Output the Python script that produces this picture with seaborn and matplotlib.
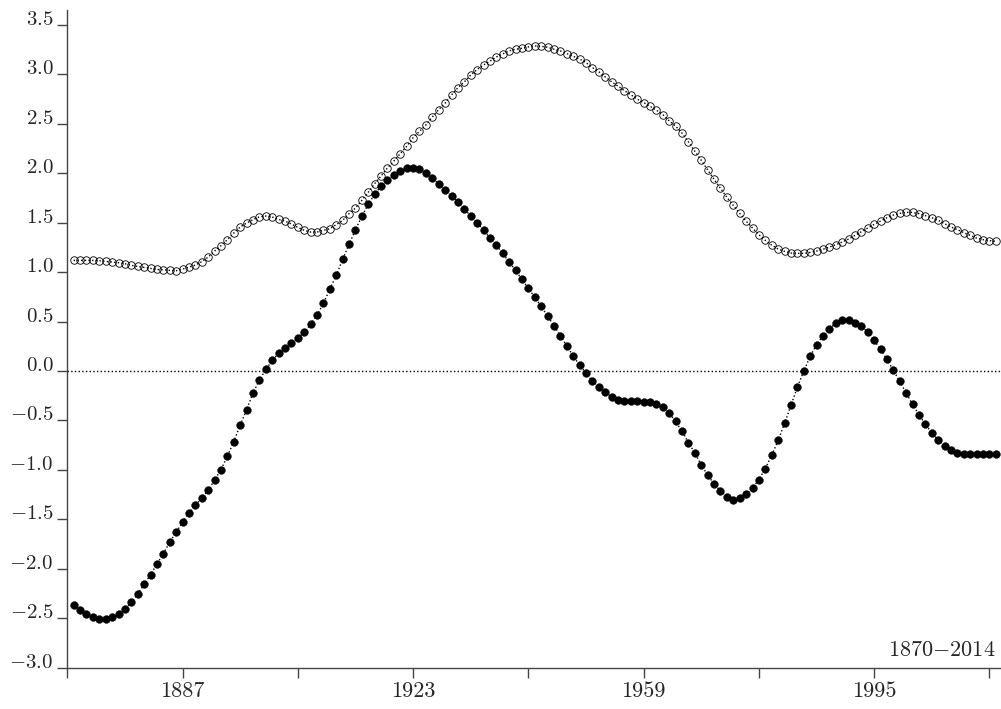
import matplotlib
matplotlib.use("Agg")
import matplotlib.pyplot as plt
import seaborn as sns

# data: one value per year 1870-2014
years = list(range(1870, 2015))

open_vals = [
    1.119, 1.119, 1.119, 1.119, 1.116, 1.109, 1.102, 1.096, 1.086, 1.069,
    1.059, 1.049, 1.038, 1.028, 1.025, 1.018, 1.015, 1.031, 1.052, 1.072,
    1.106, 1.153, 1.214, 1.268, 1.329, 1.396, 1.457, 1.497, 1.531, 1.560,
    1.568, 1.558, 1.534, 1.517, 1.487, 1.453, 1.423, 1.406, 1.406, 1.423,
    1.440, 1.481, 1.524, 1.592, 1.649, 1.727, 1.808, 1.896, 1.973, 2.054,
    2.125, 2.200, 2.273, 2.361, 2.425, 2.489, 2.570, 2.645, 2.710, 2.793,
    2.867, 2.925, 2.995, 3.050, 3.096, 3.134, 3.177, 3.208, 3.238, 3.255,
    3.265, 3.279, 3.289, 3.285, 3.275, 3.255, 3.238, 3.211, 3.184, 3.157,
    3.120, 3.070, 3.027, 2.975, 2.926, 2.882, 2.836, 2.795, 2.749,
    2.716, 2.678, 2.638, 2.594, 2.530, 2.477, 2.406, 2.317, 2.223, 2.132,
    2.034, 1.939, 1.848, 1.757, 1.676, 1.595, 1.517, 1.446, 1.379, 1.322,
    1.274, 1.234, 1.211, 1.194, 1.190, 1.190, 1.200, 1.214, 1.232, 1.254,
    1.278, 1.305, 1.335, 1.372, 1.410, 1.446, 1.484, 1.517, 1.551, 1.578,
    1.595, 1.605, 1.605, 1.592, 1.572, 1.551, 1.524, 1.491, 1.457, 1.430,
    1.400, 1.372, 1.345, 1.329, 1.319, 1.312,
]

filled_vals = [
    -2.365, -2.416, -2.457, -2.490, -2.510, -2.510, -2.490, -2.457, -2.406, -2.339,
    -2.254, -2.157, -2.059, -1.954, -1.846, -1.731, -1.630, -1.529, -1.438, -1.357,
    -1.286, -1.205, -1.104, -0.996, -0.864, -0.713, -0.547, -0.392, -0.223, -0.090,
    0.016, 0.107, 0.181, 0.232, 0.282, 0.333, 0.394, 0.472, 0.566, 0.684,
    0.829, 0.968, 1.130, 1.281, 1.430, 1.565, 1.686, 1.790, 1.871, 1.929,
    1.980, 2.020, 2.051, 2.051, 2.040, 2.000, 1.953, 1.892, 1.828, 1.771,
    1.710, 1.639, 1.568, 1.497, 1.426, 1.345, 1.271, 1.190, 1.102, 1.018,
    0.927, 0.836, 0.748, 0.654, 0.556, 0.458, 0.357, 0.256, 0.151, 0.060,
    -0.021, -0.102, -0.159, -0.210, -0.264, -0.291, -0.301, -0.304, -0.305,
    -0.308, -0.308, -0.331, -0.365, -0.426, -0.510, -0.611, -0.723, -0.831, -0.949,
    -1.053, -1.141, -1.212, -1.269, -1.300, -1.286, -1.246, -1.185, -1.097, -0.986,
    -0.851, -0.702, -0.530, -0.348, -0.163, -0.001, 0.148, 0.266, 0.358, 0.428,
    0.485, 0.512, 0.512, 0.485, 0.451, 0.394, 0.310, 0.219, 0.117, 0.006,
    -0.105, -0.223, -0.338, -0.443, -0.540, -0.625, -0.696, -0.753, -0.800, -0.824,
    -0.837, -0.837, -0.837, -0.837, -0.837, -0.837,
]

ytick_vals = [-3.0, -2.5, -2.0, -1.5, -1.0, -0.5, 0.0, 0.5, 1.0, 1.5, 2.0, 2.5, 3.0, 3.5]
xtick_vals = [1869, 1887, 1905, 1923, 1941, 1959, 1977, 1995, 2013]
xtick_labels = ["", "1887", "", "1923", "", "1959", "", "1995", ""]
period_label = "1870{-}2014"

sns.set_style("ticks")
plt.rcParams["font.family"] = ["cmr10", "DejaVu Serif"]
plt.rcParams["mathtext.fontset"] = "cm"
plt.rcParams["axes.unicode_minus"] = False

fig = plt.figure(figsize=(10.01, 7.09), dpi=100)
ax = fig.add_axes([0.0672, 0.0583, 0.9328, 0.9276])

ax.axhline(0, color="black", linestyle=":", linewidth=1.0, zorder=1)

sns.lineplot(x=years, y=open_vals, ax=ax, color="black", linestyle=":",
             linewidth=1.0, marker="o", markersize=5.4, markerfacecolor="none",
             markeredgecolor="black", markeredgewidth=0.6)
sns.lineplot(x=years, y=filled_vals, ax=ax, color="black", linestyle=":",
             linewidth=1.0, marker="o", markersize=5.6, markerfacecolor="black",
             markeredgecolor="black", markeredgewidth=0.3)

ax.set_xlim(1869, 2014.8)
ax.set_ylim(-3.0, 3.652)

ax.set_yticks(ytick_vals)
ax.set_yticklabels([r"$%.1f$" % v for v in ytick_vals], fontsize=15)
for lab in ax.get_yticklabels():
    lab.set_verticalalignment("baseline")
ax.set_xticks(xtick_vals)
ax.set_xticklabels(xtick_labels, fontsize=16)

ax.tick_params(axis="y", length=7, width=1, color="#444444", pad=3)
ax.tick_params(axis="x", length=7, width=1, color="#444444", pad=3)
for side in ["left", "bottom"]:
    ax.spines[side].set_color("#444444")
    ax.spines[side].set_linewidth(1.0)
sns.despine(ax=ax)

ax.text(0.9945, 0.018, r"$%s$" % period_label, transform=ax.transAxes,
        ha="right", va="baseline", fontsize=16)

fig.savefig("out.png", dpi=100)
